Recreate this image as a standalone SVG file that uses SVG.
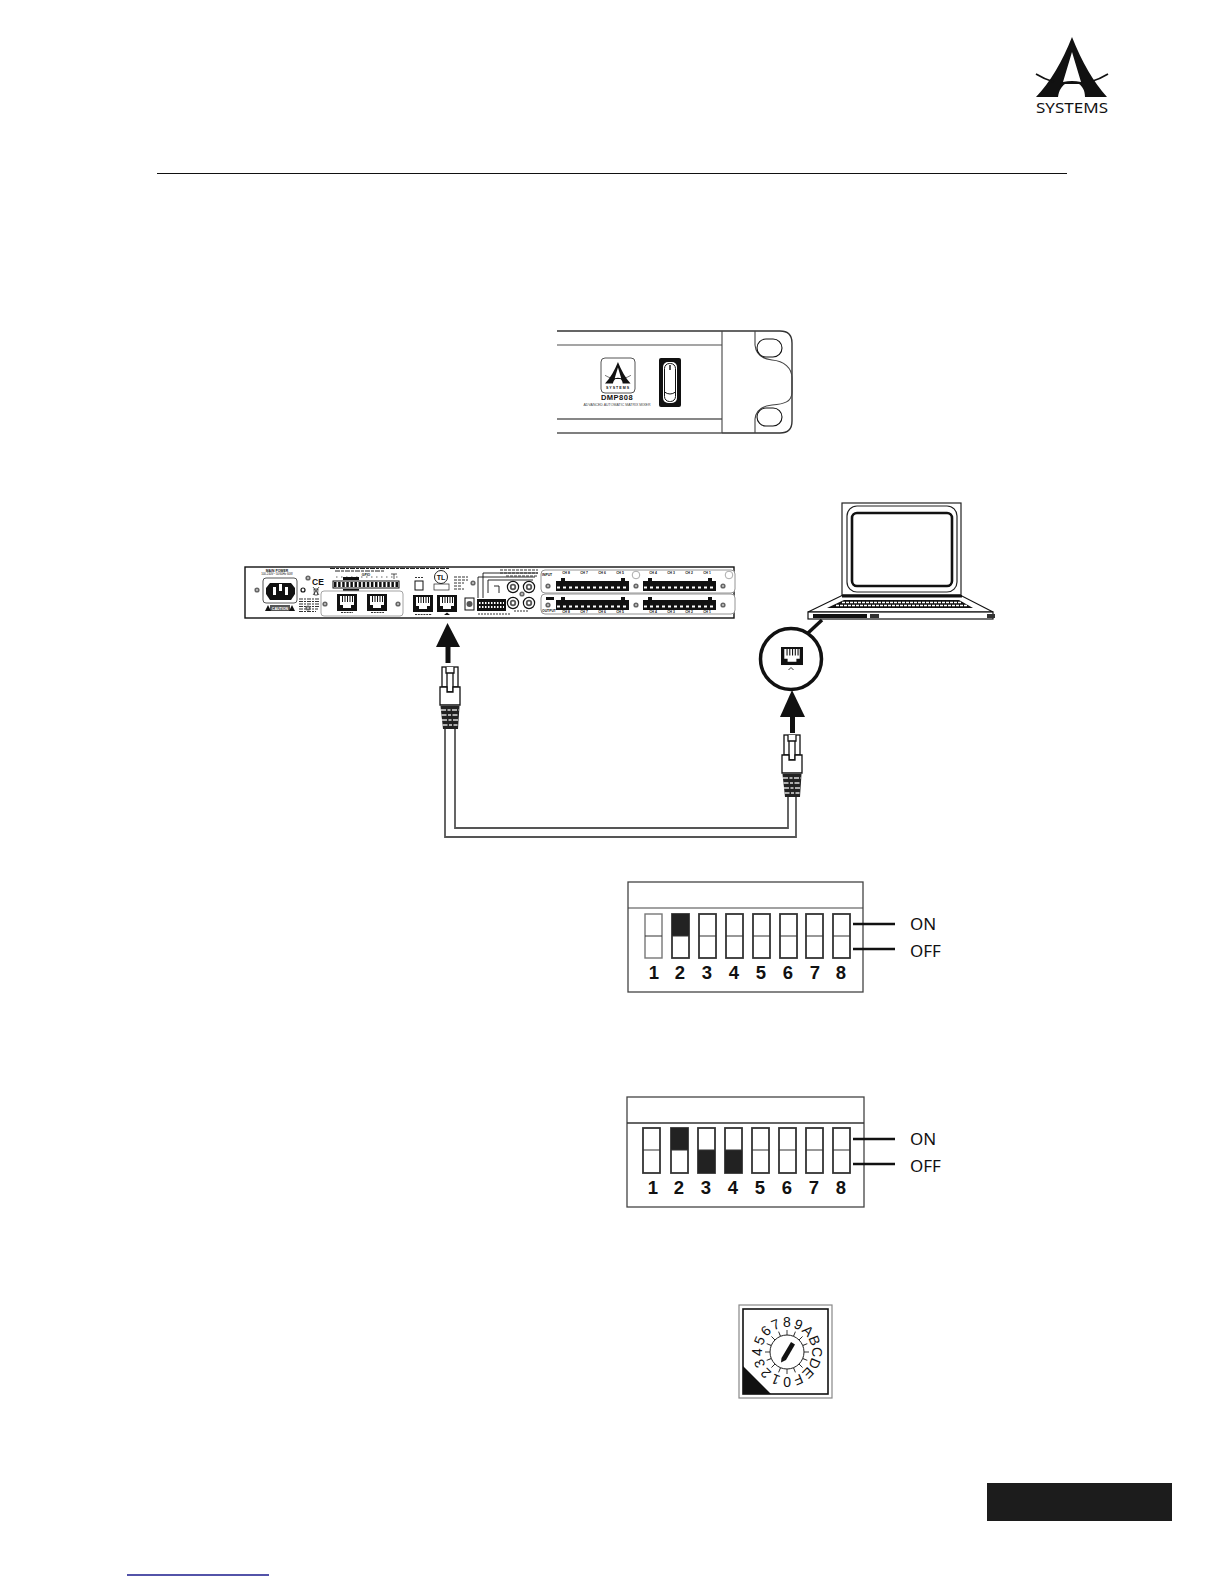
<svg xmlns="http://www.w3.org/2000/svg" xmlns:xlink="http://www.w3.org/1999/xlink" width="1224" height="1584" viewBox="0 0 1224 1584">
<style>
text{font-family:"Liberation Sans",Arial,sans-serif;fill:#111}
.b{font-weight:bold}
.ln{fill:none;stroke:#111}
.w{fill:#fff;stroke:#111}
.k{fill:#111}
.num{font-size:18.500px;font-weight:bold;text-anchor:middle;fill:#222}
.sw{font-family:"Noto Sans","Open Sans",sans-serif;font-size:17px;fill:#111}
.sw-r{fill:#fff;stroke:#333;stroke-width:1.800}
.tiny{font-size:3.4px;font-weight:bold}
.rot{font-family:"Noto Sans",sans-serif;font-size:14px;text-anchor:middle;fill:#222}
</style>
<defs>
<path id="amark" fill-rule="evenodd" d="M1072 37Q1057 75 1036 97H1058C1059 90 1062 86 1065 84H1079C1082 86 1085 90 1085 97H1107Q1087 75 1072 37ZM1072 52L1063 82Q1072 80 1081 82Z"/>
<g id="wings" fill="none" stroke="#111" stroke-width="1.600"><path d="M1036 74Q1044 79 1054 82"/><path d="M1108 74Q1100 79 1090 82"/></g>
<g id="rj">
<rect width="20" height="17" class="k"/>
<path d="M3 2H17V11H14V14H6V11H3Z" fill="#fff"/>
<path d="M5.500 2V8M8 2V8M10.500 2V8M13 2V8M15.500 2V8" stroke="#111" stroke-width="1"/>
</g>
<g id="screw"><circle r="2.600" fill="#666"/><circle r="1" fill="#ccc"/></g>
<g id="term">
<rect width="73" height="10" class="k"/>
<path d="M1 6.500H72" stroke="#fff" stroke-width="2.200" stroke-dasharray="3 3"/>
<rect x="5" y="-3" width="4" height="3" class="k"/><rect x="65" y="-3" width="4" height="3" class="k"/>
</g>
<g id="rca"><circle r="5.600" fill="#fff" stroke="#111" stroke-width="1.200"/><circle r="3.200" fill="#555"/><circle r="1.400" fill="#fff"/></g>
<g id="plug">
<rect x="-8" y="0" width="16" height="20" class="w" stroke-width="1.300"/>
<path d="M-4 0V6H4V0M-3 6V25H3V6" class="w" stroke-width="1.300"/>
<path d="M-10 20H-3V25H3V20H10V38H-10Z" class="w" stroke-width="1.300"/>
<path d="M-9.500 39H9.500L8 62H-7Z" fill="#222"/>
<path d="M-9 43H9M-8.500 48H8.500M-8 53H8M-7.500 58H7.500" stroke="#ddd" stroke-width="1.300" stroke-dasharray="5 1.500 3 1.500"/>
</g>
<path id="tick" d="M787 1335V1330" stroke="#222" stroke-width="0.900"/>
</defs>

<line x1="157" y1="173.500" x2="1067" y2="173.500" stroke="#111" stroke-width="1"/>

<g id="logo">
<use href="#amark" fill="#111"/><use href="#wings"/>
<text x="1036" y="113" font-size="15" textLength="72" lengthAdjust="spacingAndGlyphs" style="font-family:'Noto Sans',sans-serif">SYSTEMS</text>
</g>

<g id="front-panel">
<path d="M557 331H780Q792 331 792 343V421Q792 433 780 433H557" fill="none" stroke="#333" stroke-width="1.400"/>
<path d="M557 345H722M557 433H722" stroke="#888" stroke-width="1.600" fill="none"/>
<path d="M557 419H722" stroke="#111" stroke-width="1.200"/>
<path d="M722 331V433M755 331V345C756 355 762 359 772 360C784 361 792 368 792 378V392C792 402 784 404 772 405C762 406 756 410 755 419V433" fill="none" stroke="#444" stroke-width="1.100"/>
<rect x="757" y="339" width="25" height="18" rx="9" fill="#fff" stroke="#111" stroke-width="1.100"/>
<rect x="757" y="408" width="25" height="18" rx="9" fill="#fff" stroke="#111" stroke-width="1.100"/>
<rect x="601" y="358" width="34" height="35" rx="4" fill="#fff" stroke="#555" stroke-width="1"/>
<g transform="translate(605 362) scale(.36) translate(-1036 -37)"><use href="#amark" fill="#111"/><use href="#wings"/></g>
<text x="618" y="389" font-size="3.600" font-weight="bold" text-anchor="middle" letter-spacing="1">SYSTEMS</text>
<text x="617" y="399.500" font-size="7.500" font-weight="bold" text-anchor="middle" letter-spacing=".5">DMP808</text>
<text x="617" y="406" font-size="4" text-anchor="middle" textLength="67" lengthAdjust="spacingAndGlyphs" style="fill:#444">ADVANCED AUTOMATIC MATRIX MIXER</text>
<rect x="659" y="358" width="22" height="49" rx="2" class="k"/>
<rect x="663" y="362" width="14" height="41" rx="5" fill="#fff"/>
<rect x="664.500" y="363.500" width="11" height="38" rx="5" fill="#fff" stroke="#111"/>
<path d="M664.500 392Q670 396 675.500 392" fill="none" stroke="#111"/>
<path d="M670 365V370" stroke="#111" stroke-width="1.400"/>
</g>

<g id="rear-panel">
<rect x="245" y="567" width="489" height="51" fill="#fff" stroke="#111" stroke-width="1.400"/>
<text class="tiny" x="277" y="571.500" text-anchor="middle">MAIN POWER</text>
<text x="277" y="575" text-anchor="middle" font-size="2.800">100-240V~ 50/60Hz 60W</text>
<rect x="263" y="578" width="34" height="25" rx="3" fill="#fff" stroke="#555"/>
<path d="M270 583H291L295 588V594L291 600H270L266 594V588Z" class="k"/>
<path d="M273 587h3v8h-3zM279 584h3v7h-3zM285 587h3v8h-3z" fill="#fff"/>
<circle cx="303" cy="590" r="2" fill="#fff" stroke="#111" stroke-width="1.200"/>
<rect x="270" y="605" width="20" height="6" fill="#555"/>
<text x="280" y="609.500" font-size="3.600" font-weight="bold" text-anchor="middle" style="fill:#fff">CAUTION</text>
<path d="M265 611L268 605L271 611ZM289 611L292 605L295 611Z" class="k"/>
<text x="312" y="585" font-size="8.500" font-weight="bold">CE</text>
<path d="M313 587L319 595M319 587L313 595M314 589H318L317.500 595H314.500Z" fill="none" stroke="#111" stroke-width=".7"/>
<path d="M299 599H320M299 601.500H320M299 604H320M299 606.500H320M299 609H318M299 611.500H316" stroke="#333" stroke-width="1.100" stroke-dasharray="4 1 2 1"/>
<path d="M330 568.500H450M335 571H385" stroke="#222" stroke-width="1.100" stroke-dasharray="5 1 3 1"/>
<path d="M336 577H400" stroke="#666" stroke-width="1" stroke-dasharray="1.500 3.500"/>
<text class="tiny" x="366" y="576" text-anchor="middle">GPIO</text>
<rect x="343" y="577" width="16" height="3" class="k"/>
<path d="M391 574H397M394 574V579" stroke="#111" stroke-width=".7"/>
<rect x="333" y="581" width="66" height="7" fill="#fff" stroke="#111"/>
<path d="M334 584.500H398" stroke="#111" stroke-width="5" stroke-dasharray="2.500 1.600"/>
<rect x="343" y="589" width="16" height="2" class="k"/>
<rect x="321" y="591" width="82" height="25" rx="3" fill="#fff" stroke="#999" stroke-width=".9"/>
<use href="#rj" x="337" y="594"/><use href="#rj" x="367" y="594"/>
<use href="#rj" x="413" y="595"/><use href="#rj" x="437" y="595"/>
<path d="M341 612.500H353M371 612.500H384M415 614.500H432" stroke="#333" stroke-width="1.200" stroke-dasharray="2 .8"/>
<path d="M444 615L447 612.500L450 615" class="k"/>
<rect x="415" y="581" width="8" height="9" fill="#fff" stroke="#111"/>
<path d="M415 577.500H424" stroke="#333" stroke-dasharray="2 1"/>
<circle cx="441" cy="577" r="6.500" fill="#fff" stroke="#222" stroke-width="1"/>
<text x="441" y="580" font-size="7" font-weight="bold" text-anchor="middle">TL</text>
<rect x="434" y="584" width="15" height="6" fill="#fff" stroke="#222" stroke-width=".7"/>
<path d="M454 577H468M454 580H468M454 583H464M454 586H462M454 589H464" stroke="#333" stroke-width="1" stroke-dasharray="3 1"/>
<use href="#screw" x="257" y="590"/><use href="#screw" x="308" y="578"/><use href="#screw" x="308" y="608"/><use href="#screw" x="325" y="604"/><use href="#screw" x="398" y="604"/><use href="#screw" x="473" y="583"/><use href="#screw" x="522" y="594"/>
<rect x="465" y="598" width="9" height="12" fill="#fff" stroke="#111"/><circle cx="469.500" cy="604" r="3" fill="#555"/>
<rect x="477" y="599" width="29" height="12" class="k"/>
<path d="M479 603H504M479 607H504" stroke="#fff" stroke-width="2" stroke-dasharray="1.500 1.500"/>
<path d="M478 598V577H535M483 598V573H538M488 593V580H533M499 593V586H494" fill="none" stroke="#111" stroke-width=".9"/>
<path d="M500 570H538M500 573H538M506 576H538" stroke="#333" stroke-width="1" stroke-dasharray="3 1"/>
<path d="M478 614H510M514 611H528" stroke="#333" stroke-width="1.100" stroke-dasharray="2 1"/>
<use href="#rca" x="513" y="587"/><use href="#rca" x="529" y="587"/><use href="#rca" x="513" y="603"/><use href="#rca" x="529" y="603"/>
<rect x="541" y="570" width="194" height="23" rx="4" fill="#fff" stroke="#888" stroke-width=".9"/>
<rect x="541" y="594" width="194" height="20" rx="4" fill="#fff" stroke="#888" stroke-width=".9"/>
<text class="tiny" x="542" y="576">INPUT</text>
<text class="tiny" x="542" y="612">OUTPUT</text>
<path d="M546 597h8v3h-8z" class="k"/>
<use href="#screw" x="548" y="586"/><use href="#screw" x="548" y="605"/><use href="#screw" x="636" y="586"/><use href="#screw" x="636" y="605"/><use href="#screw" x="723" y="586"/><use href="#screw" x="723" y="605"/>
<circle cx="636" cy="575" r="3.800" fill="#fff" stroke="#aaa"/><circle cx="729" cy="575" r="3.800" fill="#fff" stroke="#aaa"/>
<use href="#term" x="556" y="581"/><use href="#term" x="643" y="581"/><use href="#term" x="556" y="600"/><use href="#term" x="643" y="600"/>
<g class="tiny" text-anchor="middle">
<text x="566" y="574">CH 8</text><text x="584" y="574">CH 7</text><text x="602" y="574">CH 6</text><text x="620" y="574">CH 5</text>
<text x="653" y="574">CH 4</text><text x="671" y="574">CH 3</text><text x="689" y="574">CH 2</text><text x="707" y="574">CH 1</text>
<text x="566" y="613">CH 8</text><text x="584" y="613">CH 7</text><text x="602" y="613">CH 6</text><text x="620" y="613">CH 5</text>
<text x="653" y="613">CH 4</text><text x="671" y="613">CH 3</text><text x="689" y="613">CH 2</text><text x="707" y="613">CH 1</text>
</g>
</g>

<g id="laptop">
<rect x="842" y="503" width="119" height="92" fill="#fff" stroke="#222" stroke-width="1.200"/>
<rect x="847" y="506" width="110" height="86" rx="10" fill="#fff" stroke="#222" stroke-width="1.200"/>
<rect x="852" y="513" width="100" height="73" rx="5" fill="#fff" stroke="#111" stroke-width="2.600"/>
<path d="M843 595H960L993 612H808Z" fill="#fff" stroke="#111" stroke-width="1.200"/>
<rect x="842" y="595" width="120" height="2.500" class="k"/>
<path d="M844 600H959L973 608H827Z" class="k"/>
<path d="M842 602.500H961M836 605.500H967" stroke="#fff" stroke-width="1.300" stroke-dasharray="3 1"/>
<rect x="808" y="612" width="185" height="7" fill="#fff" stroke="#111" stroke-width="1.200"/>
<rect x="813" y="614" width="54" height="4" class="k"/><rect x="870" y="614" width="9" height="4" fill="#333"/><rect x="987" y="614" width="8" height="4" fill="#333"/>
</g>

<g id="port-callout">
<line x1="808" y1="633" x2="822" y2="620" stroke="#111" stroke-width="3.500"/>
<circle cx="791" cy="659" r="30.500" fill="#fff" stroke="#111" stroke-width="3.500"/>
<use href="#rj" transform="translate(781 647) scale(1.100 1.060)"/>
<path d="M788.500 670L791 667.500L793.500 670" fill="none" stroke="#333" stroke-width="1"/>
</g>

<g id="connectors">
<path d="M445 729V837H796V797" fill="none" stroke="#555" stroke-width="1.800"/>
<path d="M455 729V828H788V797" fill="none" stroke="#555" stroke-width="1.800"/>
<path d="M448 663V645" stroke="#111" stroke-width="5"/>
<path d="M447.500 623L460 647H436Z" class="k"/>
<path d="M792.500 733V715" stroke="#111" stroke-width="5"/>
<path d="M792 690L805 717H780Z" class="k"/>
</g>

<g id="plug-left"><use href="#plug" x="450" y="667"/></g>
<g id="plug-right"><use href="#plug" x="792" y="735"/></g>

<g id="dip-1">
<rect x="628" y="882" width="235" height="110" fill="#fff" stroke="#444" stroke-width="1.300"/>
<line x1="628" y1="908" x2="863" y2="908" stroke="#444" stroke-width="1.100"/>
<g>
<rect x="645" y="914" width="17" height="44" style="fill:#fff;stroke:#777;stroke-width:1.400"/>
<rect x="672" y="914" width="17" height="44" class="sw-r"/><rect x="699" y="914" width="17" height="44" class="sw-r"/><rect x="726" y="914" width="17" height="44" class="sw-r"/><rect x="753" y="914" width="17" height="44" class="sw-r"/><rect x="780" y="914" width="17" height="44" class="sw-r"/><rect x="806" y="914" width="17" height="44" class="sw-r"/><rect x="833" y="914" width="17" height="44" class="sw-r"/>
<rect x="672" y="914" width="17" height="22" fill="#222"/>
<path d="M645 936H662M672 936H689M699 936H716M726 936H743M753 936H770M780 936H797M806 936H823M833 936H850" stroke="#333" stroke-width="1.200"/>
</g>
<g class="num"><text x="654" y="979">1</text><text x="680" y="979">2</text><text x="707" y="979">3</text><text x="734" y="979">4</text><text x="761" y="979">5</text><text x="788" y="979">6</text><text x="815" y="979">7</text><text x="841" y="979">8</text></g>
<path d="M853 924H895M853 949H895" stroke="#111" stroke-width="2.400"/>
<text class="sw" x="910" y="930">ON</text><text class="sw" x="910" y="957">OFF</text>
</g>

<g id="dip-2">
<rect x="627" y="1097" width="237" height="110" fill="#fff" stroke="#444" stroke-width="1.300"/>
<line x1="627" y1="1123" x2="864" y2="1123" stroke="#333" stroke-width="1.500"/>
<g>
<rect x="643" y="1128" width="17" height="45" class="sw-r"/><rect x="671" y="1128" width="17" height="45" class="sw-r"/><rect x="698" y="1128" width="17" height="45" class="sw-r"/><rect x="725" y="1128" width="17" height="45" class="sw-r"/><rect x="752" y="1128" width="17" height="45" class="sw-r"/><rect x="779" y="1128" width="17" height="45" class="sw-r"/><rect x="806" y="1128" width="17" height="45" class="sw-r"/><rect x="833" y="1128" width="17" height="45" class="sw-r"/>
<rect x="671" y="1128" width="17" height="22" fill="#222"/><rect x="698" y="1150" width="17" height="23" fill="#222"/><rect x="725" y="1150" width="17" height="23" fill="#222"/>
<path d="M643 1150H660M671 1150H688M698 1150H715M725 1150H742M752 1150H769M779 1150H796M806 1150H823M833 1150H850" stroke="#333" stroke-width="1.200"/>
</g>
<g class="num"><text x="653" y="1194">1</text><text x="679" y="1194">2</text><text x="706" y="1194">3</text><text x="733" y="1194">4</text><text x="760" y="1194">5</text><text x="787" y="1194">6</text><text x="814" y="1194">7</text><text x="841" y="1194">8</text></g>
<path d="M853 1139H895M853 1164H895" stroke="#111" stroke-width="2.400"/>
<text class="sw" x="910" y="1145">ON</text><text class="sw" x="910" y="1172">OFF</text>
</g>

<g id="rotary-switch">
<rect x="739" y="1305" width="93" height="93" fill="#fff" stroke="#888" stroke-width="1.200"/>
<rect x="743" y="1309" width="85" height="85" fill="#fff" stroke="#111" stroke-width="1.600"/>
<path d="M743 1366L771 1394H743Z" class="k"/>
<circle cx="787" cy="1352" r="17" fill="#fff" stroke="#222" stroke-width="1"/>
<g>
<use href="#tick"/><use href="#tick" transform="rotate(22.500 787 1352)"/><use href="#tick" transform="rotate(45 787 1352)"/><use href="#tick" transform="rotate(67.500 787 1352)"/><use href="#tick" transform="rotate(90 787 1352)"/><use href="#tick" transform="rotate(112.500 787 1352)"/><use href="#tick" transform="rotate(135 787 1352)"/><use href="#tick" transform="rotate(157.500 787 1352)"/><use href="#tick" transform="rotate(180 787 1352)"/><use href="#tick" transform="rotate(202.500 787 1352)"/><use href="#tick" transform="rotate(225 787 1352)"/><use href="#tick" transform="rotate(247.500 787 1352)"/><use href="#tick" transform="rotate(270 787 1352)"/><use href="#tick" transform="rotate(292.500 787 1352)"/><use href="#tick" transform="rotate(315 787 1352)"/><use href="#tick" transform="rotate(337.500 787 1352)"/>
</g>
<g class="rot">
<text x="787" y="1327">8</text>
<text x="787" y="1327" transform="rotate(22.500 787 1352)">9</text>
<text x="787" y="1327" transform="rotate(45 787 1352)">A</text>
<text x="787" y="1327" transform="rotate(67.500 787 1352)">B</text>
<text x="787" y="1327" transform="rotate(90 787 1352)">C</text>
<text x="787" y="1327" transform="rotate(112.500 787 1352)">D</text>
<text x="787" y="1327" transform="rotate(135 787 1352)">E</text>
<text x="787" y="1327" transform="rotate(157.500 787 1352)">F</text>
<text x="787" y="1327" transform="rotate(180 787 1352)">0</text>
<text x="787" y="1327" transform="rotate(202.500 787 1352)">1</text>
<text x="787" y="1327" transform="rotate(225 787 1352)">2</text>
<text x="787" y="1327" transform="rotate(247.500 787 1352)">3</text>
<text x="787" y="1327" transform="rotate(270 787 1352)">4</text>
<text x="787" y="1327" transform="rotate(292.500 787 1352)">5</text>
<text x="787" y="1327" transform="rotate(315 787 1352)">6</text>
<text x="787" y="1327" transform="rotate(337.500 787 1352)">7</text>
</g>
<path d="M791 1342L795 1344.500L786 1360L781 1362.500L781.500 1358Z" class="k"/>
</g>

<rect id="footer-tab" x="987" y="1483" width="185" height="38" fill="#1c1c1c"/>
<line id="footer-link" x1="127" y1="1575" x2="269" y2="1575" stroke="#1a1a8c" stroke-width="1.300"/>
</svg>
